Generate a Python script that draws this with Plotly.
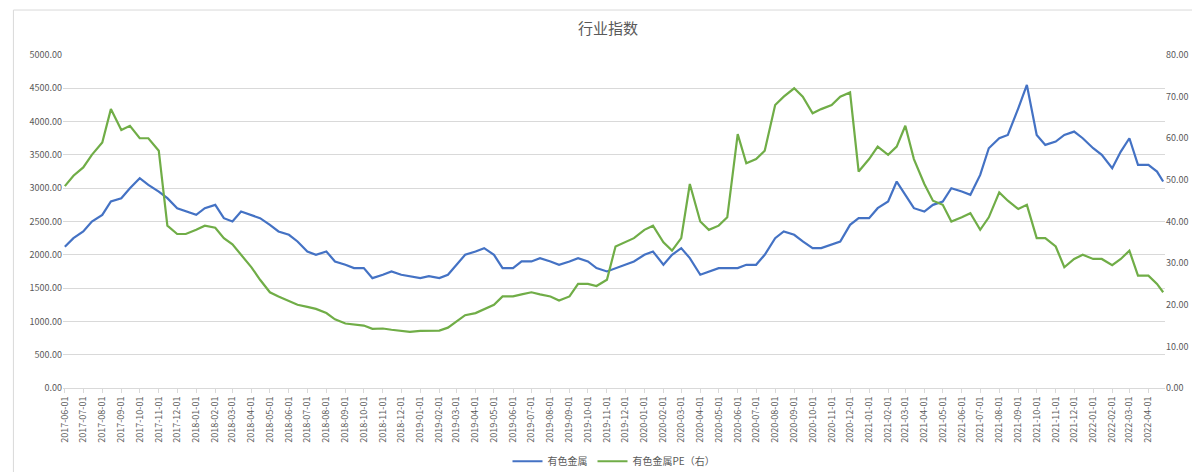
import pandas as pd
import plotly.graph_objects as go

# semi-monthly samples (1st & 15th), last point 2022-04-25
idx_2017 = [2120, 2250, 2350, 2500, 2600, 2800, 2850, 3000, 3150, 3050, 2950, 2850, 2700, 2650]
idx_2018 = [2600, 2700, 2750, 2550, 2500, 2650, 2600, 2550, 2450, 2350, 2300, 2200,
            2050, 2000, 2050, 1900, 1850, 1800, 1800, 1650, 1700, 1750, 1700, 1680]
idx_2019 = [1650, 1680, 1650, 1700, 1850, 2000, 2050, 2100, 2000, 1800, 1800, 1900,
            1900, 1950, 1900, 1850, 1900, 1950, 1900, 1800, 1750, 1800, 1850, 1900]
idx_2020 = [2000, 2050, 1850, 2000, 2100, 1950, 1700, 1750, 1800, 1800, 1800, 1850,
            1850, 2000, 2250, 2350, 2300, 2200, 2100, 2100, 2150, 2200, 2450, 2550]
idx_2021 = [2550, 2700, 2800, 3100, 2900, 2700, 2650, 2750, 2800, 3000, 2950, 2900,
            3200, 3600, 3750, 3800, 4200, 4550, 3800, 3650, 3700, 3800, 3850, 3750]
idx_2022 = [3600, 3500, 3300, 3550, 3750, 3350, 3350, 3250, 3100]

pe_2017 = [48.5, 51, 53, 56, 59, 67, 62, 63, 60, 60, 57, 39, 37, 37]
pe_2018 = [38, 39, 38.5, 36, 34.5, 32, 29, 26, 23, 22, 21, 20,
           19.5, 19, 18, 16.5, 15.5, 15.2, 15, 14.2, 14.3, 14, 13.8, 13.5]
pe_2019 = [13.7, 13.8, 13.8, 14.5, 16, 17.5, 18, 19, 20, 22, 22, 22.5,
           23, 22.5, 22, 21, 22, 25, 25, 24.5, 26, 34, 35, 36]
pe_2020 = [38, 39, 35, 33, 36, 49, 40, 38, 39, 41, 61, 54,
           55, 57, 68, 70, 72, 70, 66, 67, 68, 70, 71, 52]
pe_2021 = [55, 58, 56, 58, 63, 55, 49, 45, 44, 40, 41, 42,
           38, 41, 47, 45, 43, 44, 36, 36, 34, 29, 31, 32]
pe_2022 = [31, 31, 29.5, 31, 33, 27, 27, 25, 23]

index_vals = idx_2017 + idx_2018 + idx_2019 + idx_2020 + idx_2021 + idx_2022
pe_vals = pe_2017 + pe_2018 + pe_2019 + pe_2020 + pe_2021 + pe_2022

dates = []
for m in pd.date_range("2017-06-01", "2022-04-01", freq="MS"):
    dates.append(m)
    if m < pd.Timestamp("2022-04-01"):
        dates.append(m + pd.Timedelta(days=14))
dates.append(pd.Timestamp("2022-04-15"))
dates.append(pd.Timestamp("2022-04-25"))
n = min(len(dates), len(index_vals), len(pe_vals))
dates, index_vals, pe_vals = dates[:n], index_vals[:n], pe_vals[:n]

tick_dates = list(pd.date_range("2017-06-01", "2022-04-01", freq="MS"))

fig = go.Figure()
fig.add_trace(go.Scatter(x=dates, y=index_vals, name="有色金属", mode="lines",
                         line=dict(color="#4472C4", width=2.2)))
fig.add_trace(go.Scatter(x=dates, y=pe_vals, name="有色金属PE（右）", mode="lines",
                         line=dict(color="#70AD47", width=2.2), yaxis="y2"))

font = "Noto Sans CJK SC"
fig.update_layout(
    width=1200, height=472, margin=dict(l=55, r=43, t=47, b=92, autoexpand=False),
    paper_bgcolor="white", plot_bgcolor="white",
    font=dict(family=font, size=10, color="#595959"),
    title=dict(text="行业指数", x=0.5, xanchor="center", y=0.955, yanchor="middle",
               font=dict(size=15, color="#595959", family=font)),
    xaxis=dict(type="date", range=[pd.Timestamp("2017-05-29"), pd.Timestamp("2022-04-28")],
               tickvals=tick_dates, tickformat="%Y-%m-%d", tickangle=-90, automargin=False,
               showgrid=False, showline=True, linecolor="#D9D9D9", ticks="outside",
               ticklen=4, tickcolor="#D9D9D9", tickfont=dict(size=9)),
    yaxis=dict(range=[0, 5000], dtick=500, tickformat=".2f", gridcolor="#D9D9D9",
               zeroline=False, tickfont=dict(size=9), automargin=False),
    yaxis2=dict(range=[0, 80], dtick=10, tickformat=".2f", overlaying="y", side="right",
                showgrid=False, zeroline=False, tickfont=dict(size=9), automargin=False),
    legend=dict(orientation="h", x=0.5, xanchor="center", y=-0.22, yanchor="middle",
                font=dict(size=10)),
    shapes=[dict(type="rect", xref="paper", yref="paper", x0=-0.045, x1=1.035, y0=-0.27, y1=1.135,
                 line=dict(color="#D9D9D9", width=1))],
)
fig.write_html("out.html")
